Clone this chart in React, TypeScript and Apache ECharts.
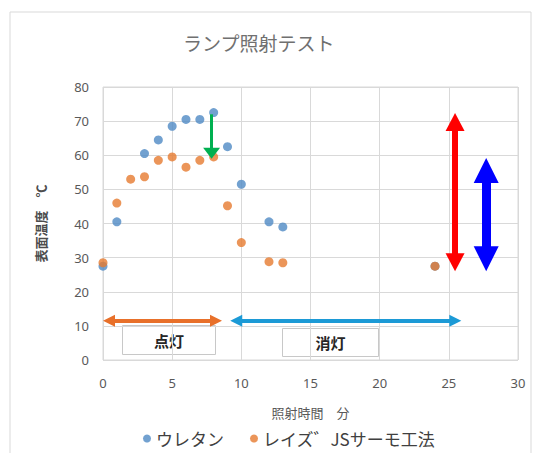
import React, { useEffect, useRef } from "react";
import * as echarts from "echarts";

// 照射時間（分）と表面温度（℃）
const urethaneX = [0, 1, 3, 4, 5, 6, 7, 8, 9, 10, 12, 13, 24];
const urethaneY = [27.5, 40.5, 60.5, 64.5, 68.5, 70.5, 70.5, 72.5, 62.5, 51.5, 40.5, 39, 27.5];
const raiseX = [0, 1, 2, 3, 4, 5, 6, 7, 8, 9, 10, 12, 13, 24];
const raiseY = [28.5, 46, 53, 53.7, 58.5, 59.5, 56.5, 58.5, 59.5, 45.2, 34.4, 28.8, 28.5, 27.5];

const seriesNames = ["ウレタン", "レイズ゛JSサーモ工法"];
const titleText = "ランプ照射テスト";
const xName = "照射時間　分";
const yName = "表面温度　℃";

// 注記の矢印（データ座標）
const onSpan = [0, 8.6];
const offSpan = [9.2, 25.9];
const spanLevel = 11.5;
const dropArrow = { x: 7.85, from: 72, to: 59 };
const urethaneRange = { x: 25.45, low: 26, high: 72.4 };
const raiseRange = { x: 27.7, low: 26, high: 59.2 };

const pair = (a: number[], b: number[]) => a.map((v, i) => [v, b[i]]);

export default function App() {
  const ref = useRef<HTMLDivElement>(null);

  useEffect(() => {
    if (!ref.current) return;
    const chart = echarts.init(ref.current, null, { renderer: "svg" });
    const pxPerY = 273 / 80;
    const pxPerX = 416 / 30;
    const shiftY = (px: number) => px / pxPerY;
    const shiftX = (px: number) => px / pxPerX;

    // 両端矢印（縦）
    const vArrow = (x: number, lo: number, hi: number, color: string, w: number, hw: number, hh: number) => [
      {
        coord: [x, lo + shiftY(hh / 2)],
        symbol: "triangle",
        symbolSize: [hw, hh],
        lineStyle: { color, width: w, type: "solid" },
      },
      { coord: [x, hi - shiftY(hh / 2)], symbol: "triangle", symbolSize: [hw, hh] },
    ];
    // 両端矢印（横）
    const hArrow = (x0: number, x1: number, y: number, color: string, w: number, hs: number) => [
      {
        coord: [x0 + shiftX(hs / 2), y],
        symbol: "triangle",
        symbolSize: [hs, hs],
        lineStyle: { color, width: w, type: "solid" },
      },
      { coord: [x1 - shiftX(hs / 2), y], symbol: "triangle", symbolSize: [hs, hs] },
    ];
    // 下向き矢印
    const downArrow = [
      {
        coord: [dropArrow.x, dropArrow.from],
        symbol: "none",
        lineStyle: { color: "#00b050", width: 3, type: "solid" },
      },
      { coord: [dropArrow.x, dropArrow.to + shiftY(5.5)], symbol: "triangle", symbolSize: [17, 11] },
    ];

    const labelBox = (text: string, left: number, top: number, w: number, h: number) => ({
      type: "group",
      left,
      top,
      z: 10,
      children: [
        {
          type: "rect",
          shape: { x: 0, y: 0, width: w, height: h },
          style: { fill: "#ffffff", stroke: "#c8c8c8", lineWidth: 1 },
        },
        {
          type: "text",
          x: w / 2,
          y: h / 2,
          style: {
            text,
            fill: "#262626",
            font: "bold 15px 'Noto Sans CJK JP'",
            align: "center",
            verticalAlign: "middle",
          },
        },
      ],
    });

    chart.setOption({
      animation: false,
      backgroundColor: "#ffffff",
      title: {
        text: titleText,
        left: 178,
        top: 28,
        textStyle: { color: "#707070", fontSize: 19, fontWeight: "normal", fontFamily: "Noto Sans CJK JP" },
      },
      legend: {
        bottom: 1,
        left: 138,
        itemWidth: 8,
        itemHeight: 8,
        itemGap: 26,
        icon: "circle",
        textStyle: { color: "#404040", fontSize: 17, fontFamily: "Noto Sans CJK JP" },
        data: seriesNames,
      },
      grid: {
        left: 103,
        right: 17,
        top: 87,
        bottom: 93,
        show: true,
        borderColor: "#d9d9d9",
        borderWidth: 1,
      },
      xAxis: {
        type: "value",
        min: 0,
        max: 30,
        interval: 5,
        name: xName,
        nameLocation: "middle",
        nameGap: 46,
        nameTextStyle: { color: "#595959", fontSize: 13, fontFamily: "Noto Sans CJK JP" },
        axisLine: { show: false },
        axisTick: { show: false },
        axisLabel: { color: "#595959", fontSize: 13, margin: 16, fontFamily: "Noto Sans" },
        splitLine: { show: true, lineStyle: { color: "#d9d9d9", width: 1 } },
      },
      yAxis: {
        type: "value",
        min: 0,
        max: 80,
        interval: 10,
        name: yName,
        nameLocation: "middle",
        nameGap: 56,
        nameRotate: 90,
        nameTextStyle: { color: "#4d4d4d", fontSize: 13, fontWeight: "bold", fontFamily: "Noto Sans CJK JP" },
        axisLine: { show: false },
        axisTick: { show: false },
        axisLabel: { color: "#595959", fontSize: 13, margin: 14, fontFamily: "Noto Sans" },
        splitLine: { show: true, lineStyle: { color: "#d9d9d9", width: 1 } },
      },
      series: [
        {
          name: seriesNames[0],
          type: "scatter",
          symbolSize: 9,
          itemStyle: { color: "#4f8ac4" },
          data: pair(urethaneX, urethaneY),
          z: 3,
        },
        {
          name: seriesNames[1],
          type: "scatter",
          symbolSize: 9,
          itemStyle: { color: "#e67a30" },
          data: pair(raiseX, raiseY),
          z: 4,
        },
        {
          name: "annotations",
          type: "scatter",
          data: [],
          z: 5,
          markLine: {
            silent: true,
            animation: false,
            label: { show: false },
            emphasis: { disabled: true },
            data: [
              hArrow(onSpan[0], onSpan[1], spanLevel, "#e8702a", 4, 12),
              hArrow(offSpan[0], offSpan[1], spanLevel, "#1c9ad6", 4, 12),
              downArrow,
              vArrow(urethaneRange.x, urethaneRange.low, urethaneRange.high, "#ff0000", 6, 19, 18),
              vArrow(raiseRange.x, raiseRange.low, raiseRange.high, "#0000ff", 9, 25, 25),
            ],
          },
        },
      ],
      graphic: [
        {
          type: "rect",
          shape: { x: 10, y: 12, width: 521, height: 450 },
          style: { fill: "none", stroke: "#d9d9d9", lineWidth: 1 },
          silent: true,
          z: -1,
        },
        labelBox("点灯", 122, 325, 93, 29),
        labelBox("消灯", 282, 328, 96, 28),
      ],
    });
    return () => chart.dispose();
  }, []);

  return (
    <div
      ref={ref}
      style={{ position: "fixed", left: 0, top: 0, width: 535, height: 453, background: "#ffffff" }}
    />
  );
}
